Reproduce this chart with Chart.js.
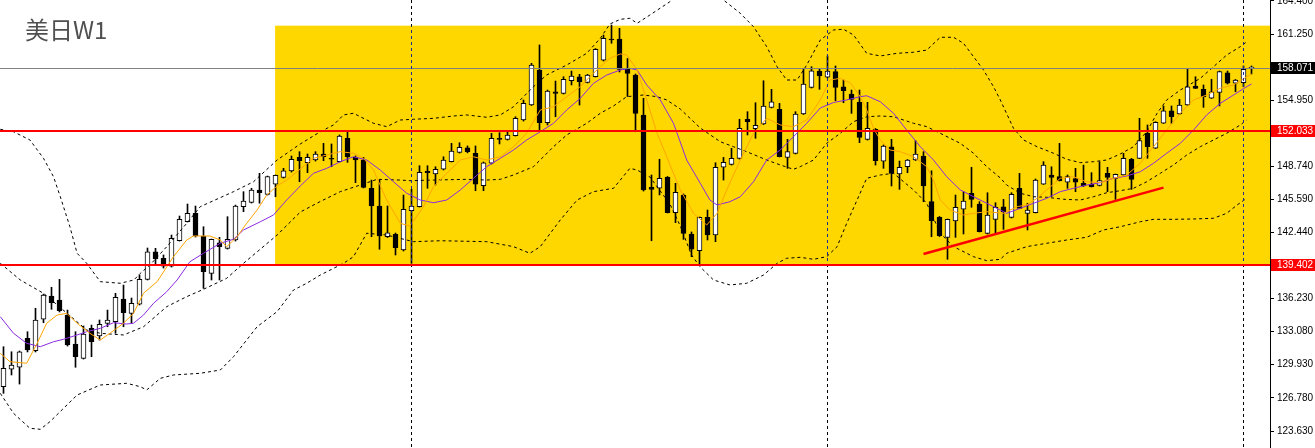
<!DOCTYPE html>
<html>
<head>
<meta charset="utf-8">
<title>美日W1</title>
<script src="https://cdn.jsdelivr.net/npm/chart.js@4.4.1/dist/chart.umd.min.js"></script>
<style>
    html, body { margin: 0; padding: 0; background: #fff; }
    #wrap { position: relative; width: 1315px; height: 448px; }
</style>
</head>
<body>
<div id="wrap"><canvas id="chart"></canvas></div>
<script>
// weekly USD/JPY candles, oldest first
const opens = [
    127.83, 129.48, 129.67, 132.42, 131.24, 134.22, 136.42, 136.04, 134.62, 131.87,
    130.52, 133.36, 132.63, 133.83, 133.99, 136.14, 134.78, 135.64, 138.00, 140.62,
    139.99, 139.26, 141.66, 143.46, 144.26, 142.11, 138.57, 141.47, 140.94, 141.73,
    144.88, 145.30, 146.47, 146.06, 147.01, 147.67, 148.27, 149.56, 149.05, 149.31,
    149.88, 149.47, 149.15, 151.36, 149.56, 149.31, 146.63, 144.95, 142.04, 142.27,
    140.78, 144.50, 144.88, 148.27, 147.98, 148.43, 149.15, 150.04, 150.47, 149.94,
    146.87, 149.00, 151.36, 151.27, 151.61, 153.10, 154.52, 157.84, 152.84, 155.78,
    155.63, 156.82, 157.20, 156.67, 157.20, 158.78, 160.75, 160.77, 158.00, 157.36,
    153.57, 146.72, 146.63, 147.67, 144.31, 145.99, 142.30, 140.71, 143.88, 142.20,
    148.62, 148.90, 149.47, 153.17, 152.27, 152.72, 154.30, 154.11, 149.56, 149.94,
    153.67, 156.20, 157.74, 157.15, 157.68, 156.25, 155.56, 154.78, 151.27, 152.22,
    149.21, 150.57, 147.98, 148.67, 149.31, 149.69, 145.36, 143.88, 141.98, 143.53,
    144.64, 146.15, 145.14, 142.36, 143.69, 144.88, 143.88, 146.63, 144.26, 144.31,
    147.03, 147.89, 147.73, 147.20, 147.54, 147.10, 147.01, 146.91, 148.05, 147.57,
    147.89, 149.38, 149.47, 151.84, 150.42, 152.79, 153.98, 153.67, 154.52, 156.32,
    156.01, 155.16, 155.72, 157.58, 156.58, 156.63, 158.03
];
const highs = [
    131.62, 131.14, 131.21, 133.04, 135.26, 136.60, 137.25, 138.00, 135.09, 133.04,
    133.58, 133.67, 134.15, 135.09, 136.68, 137.46, 136.23, 138.41, 140.97, 140.94,
    140.31, 142.20, 144.00, 145.14, 144.95, 142.99, 141.82, 141.98, 143.94, 145.04,
    146.31, 146.63, 148.05, 147.79, 147.89, 148.52, 149.69, 150.10, 149.88, 150.10,
    150.89, 150.83, 151.68, 151.93, 149.69, 149.56, 147.41, 147.41, 144.95, 142.39,
    145.99, 146.53, 148.77, 148.77, 148.67, 149.62, 150.89, 150.95, 150.64, 150.64,
    149.12, 151.84, 151.90, 151.99, 153.41, 154.99, 158.47, 160.21, 155.94, 156.79,
    157.20, 157.74, 157.43, 157.43, 159.87, 161.15, 162.10, 161.79, 158.93, 157.46,
    155.16, 147.89, 149.38, 147.75, 147.10, 146.09, 142.49, 143.91, 144.57, 149.05,
    149.56, 150.42, 153.17, 153.89, 154.74, 156.82, 156.01, 154.68, 151.27, 153.89,
    157.90, 158.15, 157.90, 159.16, 158.22, 156.89, 155.94, 155.94, 154.78, 152.29,
    150.73, 151.27, 149.21, 149.36, 151.14, 150.10, 148.29, 143.96, 143.72, 145.99,
    146.31, 148.62, 145.36, 146.21, 145.26, 145.58, 146.21, 148.05, 145.21, 147.51,
    149.15, 148.67, 150.89, 147.89, 148.52, 148.83, 148.11, 149.15, 148.62, 147.98,
    149.94, 149.47, 153.26, 152.63, 152.94, 154.43, 154.43, 155.06, 157.90, 157.20,
    156.42, 156.96, 157.74, 157.74, 156.94, 158.22, 158.22
];
const lows = [
    127.20, 128.94, 128.08, 131.12, 131.12, 133.89, 135.16, 134.91, 131.68, 129.67,
    130.45, 130.67, 132.25, 133.51, 132.89, 133.51, 133.83, 135.57, 137.94, 139.36,
    139.07, 139.17, 141.63, 143.43, 142.01, 137.15, 137.94, 137.94, 140.87, 141.63,
    144.41, 145.23, 145.21, 145.99, 145.83, 147.60, 148.17, 147.25, 148.11, 149.21,
    149.24, 148.67, 149.12, 149.09, 147.16, 146.66, 142.04, 140.85, 141.97, 140.31,
    140.69, 139.52, 144.85, 146.63, 146.94, 148.36, 149.12, 149.97, 149.99, 146.40,
    146.40, 148.93, 150.83, 151.20, 151.58, 153.00, 154.47, 152.15, 152.63, 153.41,
    155.56, 156.42, 154.52, 156.61, 157.17, 158.69, 160.37, 157.65, 155.33, 151.99,
    146.37, 141.66, 146.00, 144.29, 143.37, 141.79, 140.15, 139.36, 141.73, 141.57,
    147.41, 148.83, 149.40, 151.68, 151.37, 152.67, 154.24, 149.60, 148.52, 149.88,
    153.62, 156.13, 156.01, 157.08, 154.93, 154.74, 153.73, 150.95, 151.20, 148.83,
    148.52, 146.85, 146.53, 148.11, 149.26, 145.36, 142.04, 142.06, 139.90, 141.98,
    142.30, 144.83, 142.49, 142.30, 142.42, 142.74, 143.81, 144.71, 142.68, 144.29,
    146.99, 145.83, 147.32, 146.63, 146.31, 146.80, 146.75, 146.85, 146.31, 145.58,
    147.84, 146.53, 149.45, 149.47, 150.40, 152.77, 152.79, 153.62, 154.47, 156.08,
    154.30, 155.14, 154.43, 156.51, 155.78, 156.25, 157.46
];
const closes = [
    129.57, 129.88, 131.14, 131.31, 134.15, 136.52, 135.79, 135.03, 131.78, 130.67,
    132.82, 132.09, 133.74, 134.15, 136.30, 134.84, 135.73, 138.00, 140.62, 139.93,
    139.26, 141.89, 143.69, 144.26, 142.11, 138.72, 141.79, 141.09, 141.79, 144.95,
    145.42, 146.47, 146.21, 147.73, 147.86, 148.29, 149.38, 149.24, 149.56, 149.88,
    149.62, 149.38, 151.58, 149.62, 149.31, 146.72, 144.95, 142.11, 142.42, 141.00,
    144.64, 144.95, 148.14, 148.11, 148.43, 149.31, 150.16, 150.51, 150.10, 147.03,
    149.05, 151.36, 151.27, 151.68, 153.26, 154.68, 158.31, 152.84, 155.85, 155.63,
    156.96, 157.27, 156.73, 157.36, 159.80, 160.84, 160.68, 157.90, 157.52, 153.73,
    146.47, 146.53, 147.57, 144.31, 146.25, 142.36, 140.85, 143.88, 142.20, 148.62,
    149.09, 149.47, 152.31, 152.94, 152.60, 154.43, 154.83, 149.62, 150.10, 153.67,
    156.51, 157.77, 157.27, 157.74, 156.20, 155.88, 155.06, 151.46, 152.31, 149.24,
    150.64, 148.05, 148.62, 149.31, 149.88, 146.85, 143.56, 142.14, 143.69, 144.83,
    145.42, 145.58, 142.51, 144.10, 144.83, 144.41, 146.06, 144.73, 144.57, 147.41,
    148.83, 147.67, 147.35, 147.73, 147.20, 146.85, 146.78, 147.35, 147.67, 147.95,
    149.47, 147.48, 151.14, 150.57, 152.88, 153.98, 153.41, 154.52, 156.25, 156.10,
    155.31, 155.78, 157.68, 156.58, 156.89, 157.90, 158.071
];

// indicator lines: [bar index, price]
const fastMA = [
    [-0.4,130.99],[0.8,130.20],[2.9,130.05],[4.2,131.94],[5.4,133.84],[6.7,134.62],[7.9,134.78],[9.2,133.84],
    [10.8,132.89],[12.1,132.25],[13.3,132.89],[15,133.84],[16.25,134.78],[17.5,136.68],[19.2,137.78],[21.25,140.15],
    [22.9,141.73],[23.75,142.11],[25.8,142.11],[27.1,141.73],[27.9,141.09],[29.2,142.04],[30.4,143.31],[31.7,144.57],
    [32.9,145.99],[34.2,146.85],[35.4,147.41],[38.75,149.47],[40.4,149.78],[42.1,150.10],[43.75,149.95],[45,149.47],
    [46.25,148.36],[47.9,145.52],[49.6,143.31],[50.8,143.06],[52.5,144.89],[53.75,146.78],[55.4,148.05],[57.1,149.31],
    [58.75,149.62],[60.4,149.31],[62.1,149.62],[63.75,150.57],[65.4,151.84],[67.1,154.05],[68.75,154.36],[70.4,155.31],
    [72.1,156.26],[73.3,157.20],[74.6,158.15],[75.8,158.95],[77.1,159.36],[77.9,159.26],[79.2,157.84],[80.4,155.00],
    [81.7,151.84],[82.9,149.62],[84.6,146.47],[86.25,144.26],[87.9,143.15],[89.2,144.26],[90.4,146.47],[92.1,149.31],
    [93.75,151.84],[95.4,153.26],[97.1,152.63],[98.75,152.47],[100.4,153.10],[102.1,155.00],[103.3,156.89],[104.6,157.05],
    [105.9,156.58],[107.1,155.31],[107.9,154.05],[108.75,152.31],[109.6,151.21],[110.8,150.26],[112.1,150.10],[113.75,149.62],
    [115.4,148.68],[116.25,147.41],[117.1,145.52],[118.3,144.57],[120,144.10],[121.25,144.26],[122.9,144.41],[125,144.26],
    [126.7,144.89],[127.9,145.05],[129.2,145.68],[130.4,146.47],[132.1,147.58],[133.75,147.73],[135.4,147.25],[137.1,147.16],
    [138.75,147.58],[140.4,147.89],[142.1,149.00],[143.75,150.57],[145.4,152.15],[147.1,153.74],[148.75,155.00],[150.4,155.47],
    [152.1,156.11],[153.75,156.42],[155.4,157.20],[156,157.46]
];
const slowMA = [
    [-0.4,134.46],[1.25,132.89],[2.9,131.94],[4.6,131.62],[6.25,132.09],[7.5,132.32],[9.2,132.73],[10.4,133.04],
    [12.1,133.36],[13.75,133.89],[15.4,133.77],[16.25,133.84],[17.5,134.62],[18.75,135.73],[20.4,136.83],[21.7,137.94],
    [23.3,139.67],[25,140.47],[27.1,141.42],[28.75,141.80],[30,142.68],[32.1,143.46],[33.75,144.10],[35.4,145.52],
    [37.1,146.85],[38.75,148.05],[40.4,148.52],[42.1,149.15],[43.75,149.62],[45.4,149.31],[47.1,148.36],[48.75,147.25],
    [50.4,146.16],[52.1,145.52],[53.75,145.26],[55.4,145.52],[57.1,146.47],[58.75,147.58],[60.4,148.68],[62.1,149.47],
    [63.75,150.26],[65.4,151.21],[67.1,151.99],[68.75,152.79],[70.4,154.05],[72.1,155.16],[73.75,156.58],[75.4,157.36],
    [77.1,157.84],[78.3,158.00],[79.2,157.84],[80.4,156.42],[82.1,155.00],[83.75,152.79],[85.4,149.31],[87.1,147.10],
    [88.3,145.52],[89.2,145.05],[90.8,145.36],[92.1,145.83],[93.75,147.25],[95.4,149.31],[97.1,150.26],[98.75,151.52],
    [100.4,152.79],[102.1,154.24],[103.75,154.76],[105.4,155.00],[107.1,155.31],[107.9,155.40],[109.6,154.83],[111.25,153.74],
    [112.9,152.15],[114.6,150.57],[116.25,149.31],[117.9,147.73],[119.6,146.47],[121.25,145.83],[122.9,145.21],[124.6,144.57],
    [125.4,144.26],[127.1,144.73],[128.75,145.21],[130.4,145.68],[132.1,146.31],[133.75,146.63],[135.4,146.94],[137.1,147.16],
    [138.75,147.58],[140.4,147.79],[142.1,148.20],[143.75,149.00],[145.4,149.95],[147.1,150.89],[148.75,152.15],[150.4,153.58],
    [152.1,154.68],[153.75,155.47],[155.4,156.26],[156,156.51]
];
const upperBand = [
    [-0.4,152.22],[1.25,151.99],[3.3,151.21],[5,149.47],[6.25,147.73],[7.1,145.83],[8.3,142.99],[9.2,140.47],
    [10.4,139.52],[12.1,137.78],[14.6,137.63],[16.3,137.94],[17.1,138.57],[18.3,139.36],[20.4,141.09],[22.9,143.31],
    [24.6,144.89],[28.75,146.31],[31.25,147.25],[34.2,149.31],[37.1,150.83],[39.6,151.99],[41.25,152.63],[42.5,153.58],
    [43.75,153.74],[44.6,153.41],[46.25,152.79],[47.9,152.47],[49.6,153.10],[51.25,153.17],[53.75,153.26],[56.25,153.48],
    [57.9,153.58],[60.4,153.36],[62.1,153.58],[63.75,154.36],[64.6,155.00],[66.25,156.26],[67.9,157.37],[70.4,158.31],
    [72.9,159.42],[74.6,160.84],[75.8,162.20],[77.1,162.64],[78.3,162.74],[79.2,162.26],[80.8,163.05],[83.3,164.31],
    [84.6,165.20],[86.5,165.80],[88.5,165.20],[90,164.47],[92.1,163.21],[93.75,161.94],[95.4,160.05],[96.7,158.15],
    [97.9,156.89],[99.2,156.89],[100.4,158.31],[102.1,160.68],[103.75,161.63],[105,161.70],[106.25,161.16],[107.9,159.42],
    [109.6,159.17],[111.7,159.42],[113.75,159.52],[115.4,159.73],[117.1,160.94],[118.75,160.94],[120,160.37],[121.25,159.10],
    [122.5,157.84],[123.75,156.26],[124.6,155.00],[126.25,152.31],[127.5,151.21],[129.2,150.57],[131.25,149.95],[132.9,149.38],
    [134.6,149.06],[136.25,149.15],[137.9,149.31],[139.6,149.88],[141.25,150.57],[142.9,151.99],[144.2,153.74],[145.4,155.00],
    [147.1,155.94],[149.6,157.05],[151.25,158.15],[152.9,159.26],[154.6,160.05],[155.4,160.52]
];
const middleBand = [
    [-0.4,139.52],[2.1,137.94],[5,136.68],[10.4,133.20],[12.1,132.89],[15,132.73],[17.5,133.51],[20.4,135.41],
    [22.9,136.36],[25,137.06],[27.9,138.10],[30,139.52],[34.2,142.20],[37.1,144.38],[39.6,145.38],[42.1,146.31],
    [44.6,146.94],[46.7,147.48],[49.6,147.41],[50.8,147.35],[53.75,147.41],[57.9,147.48],[60.4,147.41],[62.1,147.48],
    [63.75,147.89],[66.25,148.68],[68.75,150.57],[70.4,151.68],[72.9,152.79],[74.6,153.74],[76.25,154.43],[77.9,155.31],
    [80,155.47],[81.7,155.31],[82.9,155.00],[84.6,154.14],[87.1,152.34],[89.6,151.04],[91.25,150.57],[92.9,150.10],
    [95.4,149.31],[97.1,148.84],[98.75,148.43],[99.6,148.68],[101.25,149.31],[102.9,150.89],[104.6,151.84],[106.25,152.94],
    [107.9,153.41],[109.6,153.48],[111.25,153.41],[113.75,152.79],[115.4,152.47],[117.1,151.84],[119.6,150.89],[121.25,149.95],
    [122.9,148.68],[124.6,147.61],[125.4,146.94],[127.1,146.16],[128.75,145.83],[130.4,145.78],[132.5,145.59],[134.6,145.52],
    [136.25,145.83],[137.9,146.21],[139.6,146.40],[141.25,146.63],[142.9,147.25],[144.6,148.05],[146.25,148.84],[147.9,149.78],
    [149.6,150.57],[151.25,151.21],[152.9,151.84],[154.6,152.63],[155.4,153.10]
];
const lowerBand = [
    [-0.4,127.20],[1.25,125.31],[3.3,123.89],[4.6,123.79],[5.8,124.51],[9.2,127.04],[12.1,127.99],[15.4,128.15],
    [17.1,127.83],[17.9,127.52],[19.6,128.62],[21.25,128.94],[24.6,129.10],[27.1,129.41],[28.75,130.67],[31.7,133.51],
    [34.2,134.94],[36.25,136.99],[37.9,137.63],[39.6,138.41],[42.5,139.52],[43.75,140.15],[45.4,142.37],[47.9,142.20],
    [51.25,141.57],[54.6,141.66],[60.4,141.57],[63.75,141.10],[65.8,140.47],[67.1,141.10],[69.6,143.63],[71.7,145.52],
    [73.75,146.31],[76.25,146.63],[78.3,148.52],[79.2,148.36],[80.8,147.70],[83.3,145.14],[84.6,143.06],[86,140.31],
    [87.1,139.17],[88.75,137.94],[90.8,137.47],[92.9,137.63],[95,138.41],[96.7,139.52],[97.9,140.00],[99.6,140.09],
    [101.25,139.90],[102.9,140.15],[104.2,141.10],[105.4,143.31],[106.7,145.52],[107.9,147.58],[109.6,147.89],[111.25,148.05],
    [113.75,146.47],[115.4,145.21],[117.1,142.37],[118.75,141.10],[121.25,140.15],[122.9,139.77],[124.6,139.90],[125.4,140.47],
    [127.9,141.10],[130.4,141.42],[132.9,141.73],[135.4,141.99],[137.5,142.68],[139.6,142.99],[142.1,143.46],[143.75,143.69],
    [146.25,143.69],[148.75,143.72],[151.25,143.79],[152.9,144.26],[154.2,145.05],[155.4,145.68]
];

// price axis labels
const yTicks = [164.4, 161.25, 158.1, 154.95, 151.86, 148.74, 145.59, 142.44, 139.29, 136.23, 133.08, 129.93, 126.78, 123.63];

// drawn objects
const lastPrice = 158.071;
const levels = [152.033, 139.402];
const boxStart = 33.95, boxTop = 162.04, boxBottom = 139.402;
const separators = [51, 103, 155];
const trendStart = [115, 140.40], trendEnd = [145, 146.69];
const title = '美日W1';

const wickData = highs.map((h, i) => ({ x: i, y: [lows[i], h] }));
const bodyData = opens.map((o, i) => ({ x: i, y: [o, closes[i]] }));
const bodyColors = opens.map((o, i) => closes[i] >= o ? '#ffffff' : '#000000');
const toPoints = arr => arr.map(p => ({ x: p[0], y: p[1] }));

function lineSet(data, color, dashed, order) {
    return {
        type: 'line',
        data: toPoints(data),
        borderColor: color,
        borderWidth: 1,
        borderDash: dashed ? [3, 3] : [],
        pointRadius: 0,
        tension: 0,
        order: order
    };
}

const overlay = {
    id: 'overlay',
    beforeDatasetsDraw(chart) {
        const { ctx, chartArea, scales: { x, y } } = chart;
        const left = x.getPixelForValue(boxStart);
        const top = y.getPixelForValue(boxTop);
        const bottom = y.getPixelForValue(boxBottom);
        ctx.save();
        ctx.fillStyle = '#ffd700';
        ctx.fillRect(left, top, chartArea.right - left, bottom - top);
        ctx.restore();
    },
    afterDatasetsDraw(chart) {
        const { ctx, chartArea, scales: { x, y } } = chart;
        ctx.save();

        // current price line
        const py = Math.round(y.getPixelForValue(lastPrice)) + 0.5;
        ctx.strokeStyle = '#808080';
        ctx.lineWidth = 1;
        ctx.beginPath();
        ctx.moveTo(chartArea.left, py);
        ctx.lineTo(chartArea.right, py);
        ctx.stroke();

        // period separators
        const boxL = x.getPixelForValue(boxStart);
        const boxT = y.getPixelForValue(boxTop);
        const boxB = y.getPixelForValue(boxBottom);
        ctx.setLineDash([3, 3]);
        separators.forEach(s => {
            const sx = Math.floor(x.getPixelForValue(s)) + 0.5;
            ctx.strokeStyle = '#000000';
            ctx.beginPath();
            ctx.moveTo(sx, chartArea.top);
            ctx.lineTo(sx, chartArea.bottom);
            ctx.stroke();
            if (sx > boxL) {
                ctx.save();
                ctx.beginPath();
                ctx.rect(boxL, boxT, chartArea.right - boxL, boxB - boxT);
                ctx.clip();
                ctx.strokeStyle = '#1f2a8c';
                ctx.beginPath();
                ctx.moveTo(sx, chartArea.top);
                ctx.lineTo(sx, chartArea.bottom);
                ctx.stroke();
                ctx.restore();
            }
        });
        ctx.setLineDash([]);

        // horizontal levels
        ctx.strokeStyle = '#ff0000';
        ctx.lineWidth = 2;
        levels.forEach(v => {
            const ly = Math.round(y.getPixelForValue(v));
            ctx.beginPath();
            ctx.moveTo(chartArea.left, ly);
            ctx.lineTo(chartArea.right, ly);
            ctx.stroke();
        });

        // trend line
        ctx.lineWidth = 2.5;
        ctx.beginPath();
        ctx.moveTo(x.getPixelForValue(trendStart[0]), y.getPixelForValue(trendStart[1]));
        ctx.lineTo(x.getPixelForValue(trendEnd[0]), y.getPixelForValue(trendEnd[1]));
        ctx.stroke();

        // symbol + timeframe
        ctx.fillStyle = '#505050';
        ctx.font = '24px "Noto Sans CJK SC"';
        ctx.textBaseline = 'alphabetic';
        ctx.fillText(title, 25, 39);
        ctx.restore();
    },
    afterDraw(chart) {
        const { ctx, scales: { y } } = chart;
        const tags = [[lastPrice, '#000000'], [levels[0], '#ff0000'], [levels[1], '#ff0000']];
        ctx.save();
        ctx.font = '10px "Liberation Sans"';
        ctx.textBaseline = 'middle';
        ctx.textAlign = 'left';
        tags.forEach(([v, c]) => {
            const ty = Math.round(y.getPixelForValue(v));
            ctx.fillStyle = c;
            ctx.fillRect(y.left + 1, ty - 6, 44, 12);
            ctx.fillStyle = '#ffffff';
            ctx.fillText(v.toFixed(3), y.left + 7, ty + 0.5);
        });
        ctx.restore();
    }
};

new Chart(document.getElementById('chart'), {
    type: 'bar',
    data: {
        datasets: [
            lineSet(fastMA, '#ffa500', false, 1),
            lineSet(slowMA, '#8a2be2', false, 2),
            lineSet(upperBand, '#000000', true, 3),
            lineSet(middleBand, '#000000', true, 3),
            lineSet(lowerBand, '#000000', true, 3),
            {
                type: 'bar',
                data: bodyData,
                backgroundColor: bodyColors,
                borderColor: '#000000',
                borderWidth: 1,
                borderSkipped: false,
                barThickness: 5,
                minBarLength: 1,
                grouped: false,
                order: 8
            },
            {
                type: 'bar',
                data: wickData,
                backgroundColor: '#000000',
                barThickness: 1,
                grouped: false,
                order: 9
            }
        ]
    },
    options: {
        responsive: true,
        maintainAspectRatio: false,
        animation: false,
        events: [],
        layout: { padding: 0 },
        plugins: {
            legend: { display: false },
            tooltip: { enabled: false },
            title: { display: false }
        },
        scales: {
            x: {
                type: 'linear',
                min: -0.4375,
                max: 158.3125,
                offset: false,
                display: false
            },
            y: {
                type: 'linear',
                position: 'right',
                min: 122.02,
                max: 164.472,
                afterBuildTicks: s => { s.ticks = yTicks.map(v => ({ value: v })); },
                afterFit: s => { s.width = 45; s.paddingTop = 0; s.paddingBottom = 0; },
                grid: { drawOnChartArea: false, drawTicks: true, tickLength: 4, color: '#000000' },
                border: { display: true, color: '#000000', width: 1 },
                ticks: {
                    autoSkip: false,
                    padding: 3,
                    color: '#000000',
                    font: { family: 'Liberation Sans', size: 10 },
                    callback: v => v.toFixed(3)
                }
            }
        }
    },
    plugins: [overlay]
});
</script>
</body>
</html>
